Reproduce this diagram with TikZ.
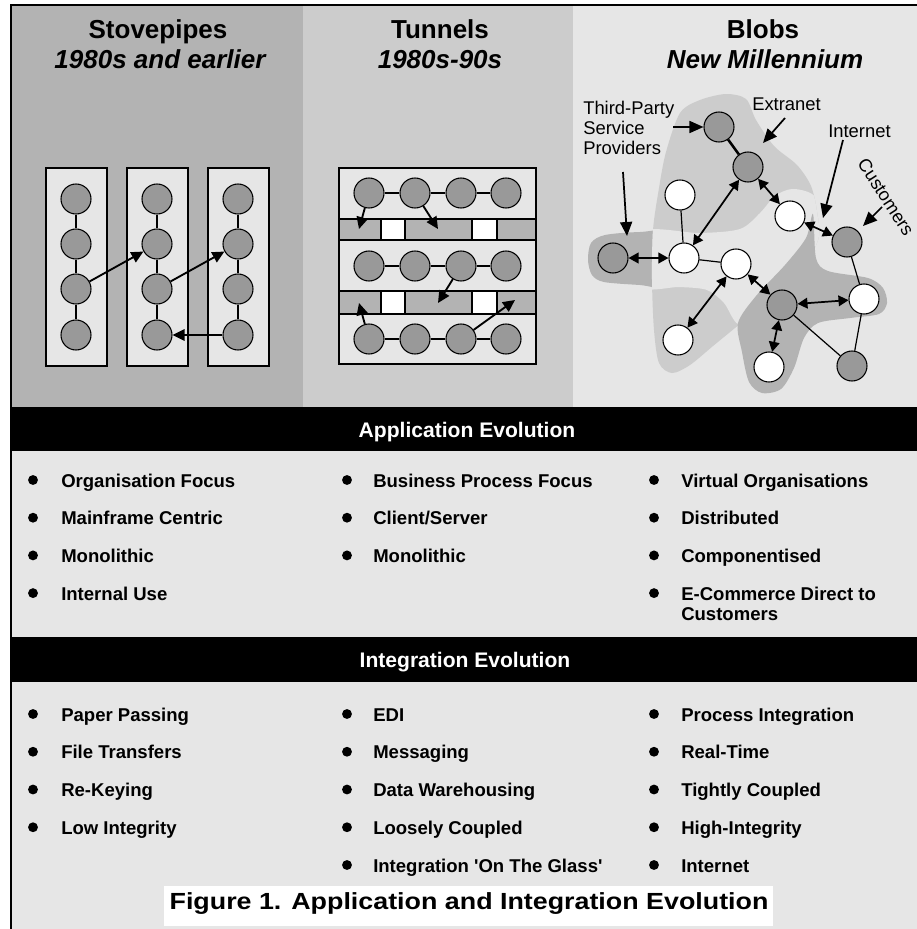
\documentclass[tikz,border=0pt]{standalone}
\usepackage{fontspec}
\setmainfont{Liberation Sans}
\usetikzlibrary{arrows.meta}
\definecolor{panelA}{HTML}{B3B3B3}
\definecolor{panelB}{HTML}{CCCCCC}
\definecolor{panelC}{HTML}{E6E6E6}
\definecolor{nodefill}{HTML}{999999}
% outline of the large extranet region
\newcommand\extranetshape{plot[smooth cycle, tension=0.5] coordinates {
  (700,100) (726,94) (746,99) (756,120) (774,146) (797,165) (811,186) (817,212)
  (818,240) (795,280) (752,314) (735,328) (713,346) (690,365) (672,373) (659,363)
  (654,330) (652,280) (653,230) (659,188) (666,152) (680,113)}}
\begin{document}
\begin{tikzpicture}[x=0.75pt,y=-0.75pt,
  dnode/.style={circle, draw, line width=0.8pt, fill=nodefill, minimum size=22.5pt, inner sep=0pt},
  wnode/.style={dnode, fill=white},
  link/.style={line width=1.3pt},
  thinlink/.style={line width=0.9pt},
  arr/.style={line width=1.4pt, -{Triangle[length=9pt,width=8.5pt]}},
  darr/.style={line width=1.3pt, {Triangle[length=7.5pt,width=8pt]}-{Triangle[length=7.5pt,width=8pt]}},
  larr/.style={line width=1.3pt, -{Triangle[length=10.5pt,width=9pt]}},
  title/.style={font=\fontsize{19.5pt}{22pt}\selectfont\bfseries, anchor=base, inner sep=0pt},
  subtitle/.style={font=\fontsize{19.5pt}{22pt}\selectfont\bfseries\itshape, anchor=base, inner sep=0pt},
  item/.style={font=\fontsize{13.9pt}{16pt}\selectfont\bfseries, anchor=base west, inner sep=0pt},
  heading/.style={font=\fontsize{15.8pt}{18pt}\selectfont\bfseries, text=white, anchor=base, inner sep=0pt},
  lbl/.style={font=\fontsize{13.8pt}{16pt}\selectfont, anchor=base west, inner sep=0pt}]
\useasboundingbox (0,0) rectangle (917,929);
\fill[white] (0,0) rectangle (917,929);

% ---- three era panels ----
\fill[panelA] (11,5) rectangle (303,407);
\fill[panelB] (303,5) rectangle (573,407);
\fill[panelC] (573,5) rectangle (917,407);
% ---- bands and lists ----
\fill[black] (11,407) rectangle (917,451);
\fill[panelC] (11,451) rectangle (917,637);
\fill[black] (11,637) rectangle (917,682);
\fill[panelC] (11,682) rectangle (917,929);
\fill[white] (164,886) rectangle (773,926);

% ---- titles ----
\node[title] (tstove) at (158,38) {Stovepipes};
\node[subtitle] (tstove2) at (160,68) {1980s and earlier};
\node[title] (ttun) at (440,38) {Tunnels};
\node[subtitle] (ttun2) at (440,68) {1980s-90s};
\node[title] (tblob) at (763,38) {Blobs};
\node[subtitle] (tblob2) at (765,68) {New Millennium};

% ---- stovepipes ----
\foreach \bx in {46,127,208}
  \filldraw[fill=panelC, line width=0.8pt] (\bx,168) rectangle ++(61,198);
\foreach \c/\x in {1/76,2/157,3/238}{
  \foreach \r/\y in {1/199,2/244,3/289,4/335}
    \node[dnode] (s\c\r) at (\x,\y) {};
  \draw[link] (s\c1) -- (s\c2) (s\c2) -- (s\c3) (s\c3) -- (s\c4);
}
\draw[arr] (s13) -- (s22);
\draw[arr] (s23) -- (s32);
\draw[arr] (s34) -- (s24);

% ---- tunnels ----
\fill[panelC] (339,168) rectangle (536,364);
\filldraw[fill=panelA, line width=0.8pt] (339,219) rectangle (536,240);
\filldraw[fill=panelA, line width=0.8pt] (339,291) rectangle (536,314);
\foreach \ya/\yb in {219/240,291/314}{
  \filldraw[fill=white, line width=0.8pt] (381,\ya) rectangle (405,\yb);
  \filldraw[fill=white, line width=0.8pt] (472,\ya) rectangle (497,\yb);
}
\draw[line width=0.8pt] (339,168) rectangle (536,364);
\foreach \r/\y in {1/193,2/266,3/339}{
  \foreach \c/\x in {1/369,2/415,3/461,4/506}
    \node[dnode] (t\r\c) at (\x,\y) {};
  \draw[link] (t\r1) -- (t\r2) (t\r2) -- (t\r3) (t\r3) -- (t\r4);
}
\coordinate (ta) at (359,229);
\coordinate (tb) at (438,229);
\coordinate (tc) at (438,303);
\coordinate (td) at (359,303);
\coordinate (te) at (515,300);
\draw[arr] (t11) -- (ta);
\draw[arr] (t12) -- (tb);
\draw[arr] (t23) -- (tc);
\draw[arr] (t31) -- (td);
\draw[arr] (t33) -- (te);

% ---- blobs: shaded regions ----
\fill[panelA] plot[smooth cycle, tension=0.5] coordinates {
  (680,233) (640,232) (605,235) (591,243) (588,260) (592,275) (604,282) (640,285) (680,287)};
\fill[panelB] \extranetshape;
\begin{scope}
  \clip \extranetshape;
  \fill[panelC] plot[smooth cycle, tension=0.5] coordinates {
    (640,232) (700,233) (740,229) (760,213) (775,196) (792,189) (812,194) (826,212)
    (826,250) (790,290) (760,318) (738,324) (724,303) (707,290) (680,287) (640,286)};
\end{scope}
\fill[panelA] plot[smooth cycle, tension=0.5] coordinates {
  (813,214) (816,258) (828,271) (868,278) (883,288) (887,303) (879,314) (850,318)
  (818,323) (804,338) (794,368) (781,389) (762,393) (749,382) (742,352) (738,323)
  (756,296) (785,265) (806,238)};

% ---- blobs: nodes ----
\node[dnode] (n1) at (719,127) {};
\node[dnode] (n2) at (748,167) {};
\node[wnode] (w1) at (680,195) {};
\node[wnode] (w2) at (790,216) {};
\node[dnode] (d3) at (847,242) {};
\node[dnode] (lf) at (613,258) {};
\node[wnode] (w3) at (684,258) {};
\node[wnode] (w4) at (736,264) {};
\node[dnode] (d4) at (782,305) {};
\node[wnode] (w5) at (864,299) {};
\node[wnode] (w6) at (678,340) {};
\node[wnode] (w7) at (769,367) {};
\node[dnode] (d5) at (852,366) {};

\draw[line width=1.9pt] (n1) -- (n2);
\draw[thinlink] (w1) -- (w3);
\draw[thinlink] (w3) -- (w4);
\draw[thinlink] (d3) -- (w5);
\draw[thinlink] (w5) -- (d5);
\draw[thinlink] (d4) -- (d5);
\draw[darr] (n2) -- (w3);
\draw[darr] (n2) -- (w2);
\draw[darr] (w2) -- (d3);
\draw[darr] (lf) -- (w3);
\draw[darr] (w4) -- (w6);
\draw[darr] (w4) -- (d4);
\draw[darr] (d4) -- (w5);
\draw[darr] (d4) -- (w7);

% ---- blobs: labels ----
\node[lbl] (tp1) at (583,114) {Third-Party};
\node[lbl] (tp2) at (583,134) {Service};
\node[lbl] (tp3) at (583,154) {Providers};
\node[lbl] (ext) at (752,110) {Extranet};
\node[lbl] (inet) at (828,137) {Internet};
\node[font=\fontsize{13.6pt}{16pt}\selectfont, inner sep=0pt, rotate=-57] (cust) at (886,197) {Customers};
\coordinate (tpa) at (673,127);
\coordinate (tpb) at (623,172);
\coordinate (tpc) at (627,236);
\coordinate (exa) at (785,118);
\coordinate (exb) at (763,143);
\coordinate (ina) at (843,140);
\coordinate (inb) at (823,218);
\coordinate (cua) at (882,207);
\coordinate (cub) at (863,226);
\draw[larr] (tpa) -- (n1);
\draw[larr] (tpb) -- (tpc);
\draw[larr] (exa) -- (exb);
\draw[larr] (ina) -- (inb);
\draw[larr] (cua) -- (cub);

% ---- application evolution ----
\node[heading] (happ) at (467,437) {Application Evolution};
\foreach \txt [count=\i] in {Organisation Focus, Mainframe Centric, Monolithic, Internal Use}{
  \fill (33,{480+37.7*(\i-1)}) circle[radius=3.7pt];
  \node[item] (aa\i) at (61,{487+37.7*(\i-1)}) {\txt};}
\foreach \txt [count=\i] in {Business Process Focus, Client/Server, Monolithic}{
  \fill (347,{480+37.7*(\i-1)}) circle[radius=3.7pt];
  \node[item] (ab\i) at (373,{487+37.7*(\i-1)}) {\txt};}
\foreach \txt [count=\i] in {Virtual Organisations, Distributed, Componentised, E-Commerce Direct to}{
  \fill (654,{480+37.7*(\i-1)}) circle[radius=3.7pt];
  \node[item] (ac\i) at (681,{487+37.7*(\i-1)}) {\txt};}
\node[item] (ac5) at (681,620) {Customers};

% ---- integration evolution ----
\node[heading] (hint) at (465,667) {Integration Evolution};
\foreach \txt [count=\i] in {Paper Passing, File Transfers, Re-Keying, Low Integrity}{
  \fill (33,{714+37.75*(\i-1)}) circle[radius=3.7pt];
  \node[item] (ia\i) at (61,{721+37.75*(\i-1)}) {\txt};}
\foreach \txt [count=\i] in {EDI, Messaging, Data Warehousing, Loosely Coupled, Integration \textquotesingle On The Glass\textquotesingle}{
  \fill (347,{714+37.75*(\i-1)}) circle[radius=3.7pt];
  \node[item] (ib\i) at (373,{721+37.75*(\i-1)}) {\txt};}
\foreach \txt [count=\i] in {Process Integration, Real-Time, Tightly Coupled, High-Integrity, Internet}{
  \fill (654,{714+37.75*(\i-1)}) circle[radius=3.7pt];
  \node[item] (ic\i) at (681,{721+37.75*(\i-1)}) {\txt};}

% ---- caption ----
\node[font=\fontsize{17.5pt}{20pt}\selectfont\bfseries, anchor=base, inner sep=0pt, xscale=1.15] (cap) at (469,909) {Figure 1. Application and Integration Evolution};

% ---- frame ----
\draw[line width=1pt] (11,929) -- (11,5) -- (917,5);
\end{tikzpicture}
\end{document}
